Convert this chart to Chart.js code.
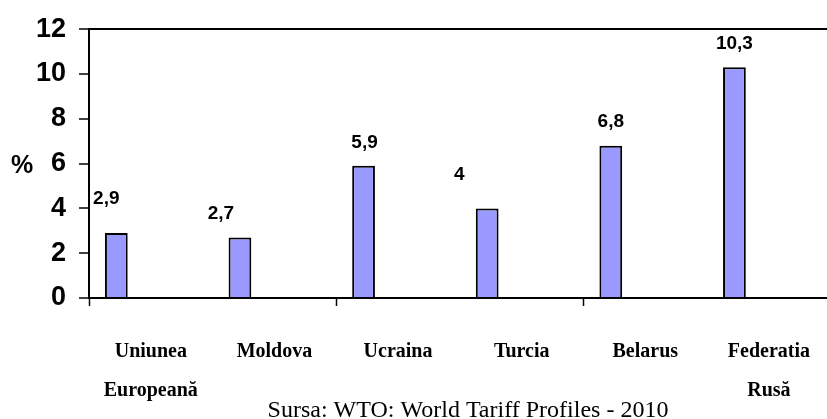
<!DOCTYPE html>
<html>
<head>
<meta charset="utf-8">
<script src="https://cdn.jsdelivr.net/npm/chart.js@4.4.0/dist/chart.umd.min.js"></script>
<style>
  html, body { margin: 0; padding: 0; background: #fff; overflow: hidden; width: 827px; height: 419px; }
  #wrap { width: 836px; height: 419px; }
</style>
</head>
<body>
<div id="wrap"><canvas id="chart" width="836" height="419"></canvas></div>
<script>
  /* ── Data ─────────────────────────────────────────────────────── */
  const categories = [
    ['Uniunea', 'Europeană'], 'Moldova', 'Ucraina', 'Turcia', 'Belarus', ['Federatia', 'Rusă'],
  ];
  const tariffs = [2.9, 2.7, 5.9, 4, 6.8, 10.3];
  const valueLabels = ['2,9', '2,7', '5,9', '4', '6,8', '10,3'];
  const yTicks = [0, 2, 4, 6, 8, 10, 12];
  const sourceText = 'Sursa: WTO: World Tariff Profiles - 2010';

  // label nudges relative to bar top/centre (labels were hand-moved in the original)
  const labelNudge = [[-10, -34], [-19, -24], [1, -23], [-28, -34], [0, -24], [0, -24]];

  const BLACK = '#000000';
  const BAR_FILL = '#9999ff';
  const SANS = '"Liberation Sans", Arial, sans-serif';
  const SERIF = '"Liberation Serif", "Times New Roman", serif';

  /* ── Extra text: value labels, % sign, source line ───────────── */
  const extraText = {
    id: 'extraText',
    afterDatasetsDraw(chart) {
      const ctx = chart.ctx;
      const meta = chart.getDatasetMeta(0);
      ctx.save();
      ctx.fillStyle = BLACK;
      ctx.font = 'bold 19px ' + SANS;
      ctx.textAlign = 'center';
      ctx.textBaseline = 'middle';
      meta.data.forEach((bar, i) => {
        const [dx, dy] = labelNudge[i];
        ctx.fillText(valueLabels[i], bar.x + dx, bar.y + dy);
      });

      const y = chart.scales.y;
      ctx.font = 'bold 25px ' + SANS;
      ctx.textAlign = 'left';
      ctx.fillText('%', 11, y.getPixelForValue(6) + 3);

      ctx.font = '24px ' + SERIF;
      ctx.textAlign = 'center';
      ctx.textBaseline = 'alphabetic';
      ctx.fillText(sourceText, 468, 417);
      ctx.restore();
    },
  };

  new Chart(document.getElementById('chart'), {
    type: 'bar',
    data: {
      labels: categories,
      datasets: [
        { data: tariffs, backgroundColor: BAR_FILL, borderColor: BLACK, borderWidth: 2 },
        // empty series keep the bar on the left of its slot, like the original
        { data: [] },
        { data: [] },
      ],
    },
    options: {
      responsive: false,
      animation: false,
      categoryPercentage: 0.837,
      barPercentage: 0.66,
      layout: { padding: { top: 24, left: 0, right: 0, bottom: 0 } },
      plugins: { legend: { display: false }, tooltip: { enabled: false } },
      scales: {
        x: {
          grid: {
            offset: true,
            drawOnChartArea: false,
            tickLength: 8,
            tickWidth: 1.5,
            tickColor: ctx => (ctx.index % 2 === 0 ? BLACK : 'rgba(0,0,0,0)'),
          },
          border: { display: true, color: BLACK, width: 2 },
          ticks: {
            color: BLACK,
            autoSkip: false,
            maxRotation: 0,
            padding: 26,
            font: { family: SERIF, size: 20, weight: 'bold', lineHeight: 1.95 },
          },
          afterFit(scale) { scale.height = 419 - 298; },
        },
        y: {
          min: 0,
          max: 12,
          afterBuildTicks(scale) { scale.ticks = yTicks.map(v => ({ value: v })); },
          grid: {
            color: ctx => (ctx.tick && ctx.tick.value === 12 ? BLACK : 'rgba(0,0,0,0)'),
            lineWidth: 2,
            tickColor: BLACK,
            tickWidth: 1.5,
            tickLength: 10,
          },
          border: { display: true, color: BLACK, width: 2 },
          ticks: {
            color: BLACK,
            padding: 13,
            font: { family: SANS, size: 27, weight: 'bold' },
          },
          afterFit(scale) { scale.width = 89; },
        },
      },
    },
    plugins: [extraText],
  });
</script>
</body>
</html>
